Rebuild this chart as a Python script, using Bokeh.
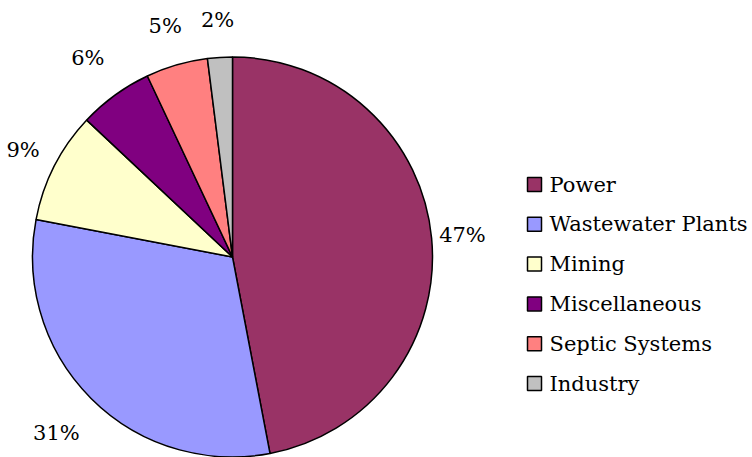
import math
from bokeh.plotting import figure
from bokeh.models import ColumnDataSource, Range1d
from bokeh.core.properties import value
from bokeh.embed import file_html
from bokeh.resources import INLINE

# ---- data ----
categories = ["Power", "Wastewater Plants", "Mining", "Miscellaneous", "Septic Systems", "Industry"]
shares = [47, 31, 9, 6, 5, 2]
colors = ["#993366", "#9999FF", "#FFFFCC", "#800080", "#FF8080", "#C0C0C0"]

# ---- layout (pixel units, 1 data unit = 1 px) ----
W, H = 752, 457
cx, cy, r = 232, 200.5, 200
label_gap = [31, 49, 35, 46, 41, 37]
FONT = "DejaVu Serif"
FS = "21px"

total = float(sum(shares))
starts, ends, lx, ly, labels = [], [], [], [], []
cum = 0.0
for i, s in enumerate(shares):
    a0 = math.pi / 2 - 2 * math.pi * cum / total
    cum += s
    a1 = math.pi / 2 - 2 * math.pi * cum / total
    starts.append(a0)
    ends.append(a1)
    mid = (a0 + a1) / 2
    rr = r + label_gap[i]
    lx.append(cx + rr * math.cos(mid))
    ly.append(cy + rr * math.sin(mid))
    labels.append(f"{s}%")

src = ColumnDataSource(dict(start=starts, end=ends, color=colors))

p = figure(width=W, height=H, output_backend="svg", toolbar_location=None,
           x_range=Range1d(0, W), y_range=Range1d(0, H), min_border=0)
p.axis.visible = False
p.grid.visible = False
p.outline_line_color = None
p.background_fill_color = "white"

p.wedge(x=cx, y=cy, radius=r, start_angle="start", end_angle="end", direction="clock",
        fill_color="color", line_color="black", line_width=1.5, source=src)

p.text(x=lx, y=ly, text=labels, text_align="center", text_baseline="middle",
       text_font=value(FONT), text_font_size=FS, text_color="black")

# legend
leg_x, leg_y0, leg_dy = 534, 273, 39.8
ly_leg = [leg_y0 - i * leg_dy for i in range(len(categories))]
p.rect(x=[leg_x] * len(categories), y=ly_leg, width=14, height=14,
       fill_color=colors, line_color="black", line_width=1.5)
p.text(x=[leg_x + 15] * len(categories), y=ly_leg, text=categories,
       text_align="left", text_baseline="middle",
       text_font=value(FONT), text_font_size=FS, text_color="black")

open("out.html", "w").write(file_html(p, INLINE))
